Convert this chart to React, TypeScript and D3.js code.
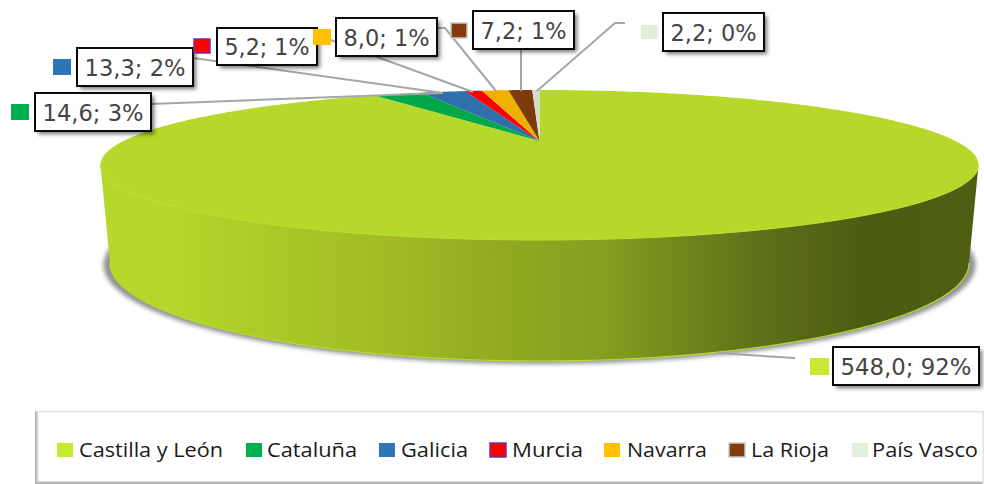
import React from "react";
import * as d3 from "d3";

const categories = ["Castilla y León", "Cataluña", "Galicia", "Murcia", "Navarra", "La Rioja", "País Vasco"];
const values = [548.0, 14.6, 13.3, 5.2, 8.0, 7.2, 2.2];
const percents = [92, 3, 2, 1, 1, 1, 0];
const sliceColors = ["#b5d82a", "#00a84a", "#2e6fac", "#ff0000", "#f0b000", "#7e3c0d", "#cfdfc8"];
const keyColors = ["#c6ea2f", "#00b050", "#2e75b6", "#ff0000", "#ffc000", "#843c0c", "#e2efda"];
const keyBorders = ["none", "none", "none", "#7030a0", "none", "#c9c9c9", "none"];

// layout of annotations
const boxes = [
  { x: 833, y: 347, w: 146, h: 38 }, { x: 35, y: 93, w: 116, h: 38 }, { x: 77, y: 48, w: 116, h: 38 },
  { x: 217, y: 28, w: 100, h: 37 }, { x: 336, y: 18, w: 101, h: 38 }, { x: 473, y: 11, w: 101, h: 38 }, { x: 663, y: 13, w: 101, h: 38 },
];
const keys = [
  { x: 810, y: 358, w: 19, h: 17 }, { x: 11, y: 104, w: 18, h: 16 }, { x: 53, y: 59, w: 18, h: 16 },
  { x: 194, y: 39, w: 16, h: 14 }, { x: 313, y: 29, w: 18, h: 16 }, { x: 451, y: 23, w: 16, h: 15 }, { x: 641, y: 25, w: 17, h: 14 },
];
const leaders: [number, number][][] = [
  [[717, 353], [795, 358]], [[151, 104], [443, 93]], [[193, 58], [443, 93]],
  [[317, 35], [473, 92]], [[437, 28], [445, 28], [496, 91]], [[521, 49], [521, 91]], [[537, 91], [615, 23], [625, 23]],
];
const legendSwatchX = [57, 246, 379, 490, 604, 729, 852];
const legendTextX = [79, 267, 401, 512, 627, 751, 872];
const legendTextW = [144, 90, 67, 71, 80, 78, 106];

const gradientStops: [number, string][] = [
  [101, "#b5d82a"], [180, "#b3d62a"], [300, "#a8c526"], [380, "#a3bc24"], [500, "#91aa20"], [600, "#85a021"],
  [680, "#72871b"], [760, "#5f7019"], [870, "#4b5a11"], [978, "#4f5f12"],
];

const cx = 539.5;
const apexY = 141;
const persp = 0.32;
const radius = 416;
const tilt = 22.2;
const xScale = d3.scaleLinear().domain([-1, 1]).range([cx - radius, cx + radius]);

const project = (a: number): [number, number] => {
  const u = Math.sin(a), v = Math.cos(a), w = 1 + persp * v;
  return [xScale(u / w), (apexY - tilt * v) / w];
};

const pieGen = d3.pie<number>().sort(null).startAngle(0).endAngle(2 * Math.PI);
const arcs = pieGen(values);
const line = d3.line();

const slicePath = (s: number, e: number) => {
  const n = Math.max(2, Math.ceil((e - s) / 0.01));
  const pts = d3.range(n + 1).map((i) => project(s + ((e - s) * i) / n));
  return line([[cx, apexY], ...pts]) + "Z";
};

const ellipse = (ecx: number, ecy: number, rx: number, ry: number, from: number, to: number) =>
  d3.range(201).map((i): [number, number] => {
    const t = from + ((to - from) * i) / 200;
    return [ecx + rx * Math.cos(t), ecy + ry * Math.sin(t)];
  });

const topFront = ellipse(cx, 165, 439, 75, Math.PI, 0);
const bottomFront = ellipse(cx, 263, 429.5, 98, 0, Math.PI);
const wallPath = line([...topFront, ...bottomFront]) + "Z";
const shadowPath = line(ellipse(cx, 265, 436, 99, 0, 2 * Math.PI)) + "Z";

const fmt = (v: number) => v.toFixed(1).replace(".", ",");

export default function App() {
  return (
    <svg width={984} height={484} style={{ position: "absolute", left: 0, top: 0, background: "#fff" }}>
      <defs>
        <linearGradient id="wall" gradientUnits="userSpaceOnUse" x1={101} x2={978} y1={0} y2={0}>
          {gradientStops.map(([x, c]) => (
            <stop key={x} offset={(x - 101) / 877} stopColor={c} />
          ))}
        </linearGradient>
        <filter id="soft" x="-5%" y="-5%" width="110%" height="110%">
          <feGaussianBlur stdDeviation={2.2} />
        </filter>
        <filter id="boxShadow" x="-15%" y="-25%" width="130%" height="150%">
          <feGaussianBlur stdDeviation={2} />
        </filter>
        <linearGradient id="legendLeft" x1={0} x2={1} y1={0} y2={0}>
          <stop offset={0} stopColor="#a8a8a8" />
          <stop offset={1} stopColor="#f4f4f4" />
        </linearGradient>
      </defs>

      {/* legend panel */}
      <rect x={35} y={411} width={949} height={73} fill="#fff" />
      <rect x={35} y={411} width={949} height={1.5} fill="#e4e4e4" />
      <rect x={35} y={411} width={4} height={73} fill="url(#legendLeft)" />
      <rect x={35} y={481.5} width={949} height={2.5} fill="#b8b8b8" />
      <rect x={982.5} y={411} width={1.5} height={73} fill="#e4e4e4" />
      {categories.map((c, i) => (
        <g key={c}>
          <rect
            x={legendSwatchX[i]} y={443} width={16} height={14} fill={keyColors[i]}
            stroke={keyBorders[i]} strokeWidth={keyBorders[i] === "none" ? 0 : 1.5}
          />
          <text
            x={legendTextX[i]} y={457} fontFamily="'Open Sans', sans-serif" fontSize={20} fill="#1a1a1a"
            textLength={legendTextW[i]} lengthAdjust="spacingAndGlyphs"
          >
            {c}
          </text>
        </g>
      ))}

      {/* pie */}
      <path d={shadowPath} fill="#5a5a5a" opacity={0.65} filter="url(#soft)" />
      <path d={wallPath} fill="url(#wall)" />
      <path d={line(bottomFront) ?? ""} fill="none" stroke="#b5dc2a" strokeWidth={1.2} />
      {arcs.map((a, i) => (
        <path key={categories[i]} d={slicePath(a.startAngle, a.endAngle)} fill={sliceColors[i]} />
      ))}
      <path d={line(topFront) ?? ""} fill="none" stroke="#bfe02e" strokeWidth={1} />

      {/* leaders */}
      {leaders.map((pts, i) => (
        <path key={i} d={line(pts) ?? ""} fill="none" stroke="#a6a6a6" strokeWidth={2} />
      ))}

      {/* data labels */}
      {values.map((v, i) => {
        const b = boxes[i];
        const k = keys[i];
        return (
          <g key={categories[i]}>
            <rect x={k.x} y={k.y} width={k.w} height={k.h} fill={keyColors[i]}
              stroke={keyBorders[i]} strokeWidth={keyBorders[i] === "none" ? 0 : 1.5} />
            <rect x={b.x + 3} y={b.y + 3} width={b.w} height={b.h} fill="#000" opacity={0.55} filter="url(#boxShadow)" />
            <rect x={b.x} y={b.y} width={b.w} height={b.h} fill="#fff" stroke="#0a0a0a" strokeWidth={2} />
            <text
              x={b.x + b.w / 2} y={b.y + b.h / 2 + 8.5} textAnchor="middle"
              fontFamily="'DejaVu Sans', sans-serif" fontSize={23} fill="#444"
              textLength={b.w - 15} lengthAdjust="spacingAndGlyphs"
            >
              {`${fmt(v)}; ${percents[i]}%`}
            </text>
          </g>
        );
      })}
    </svg>
  );
}
